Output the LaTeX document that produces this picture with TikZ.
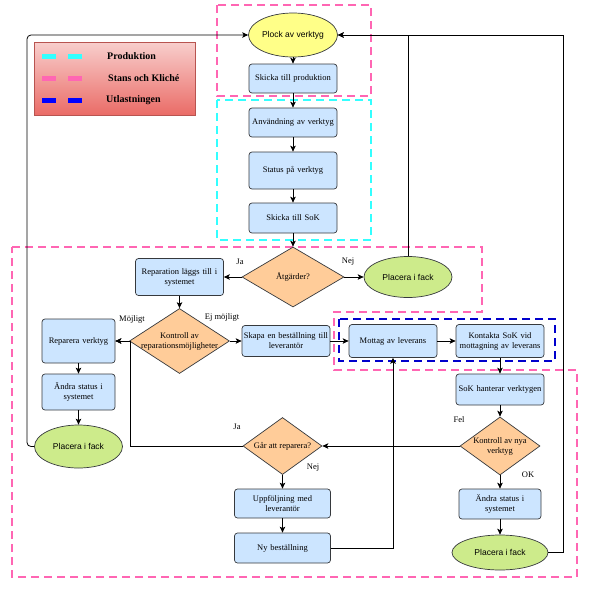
\documentclass[tikz,border=0pt]{standalone}
\usepackage{fontspec}
\setmainfont{Liberation Serif}
\newfontfamily\arialfont{Liberation Sans}
\usetikzlibrary{shapes.geometric,arrows.meta}
\definecolor{boxfill}{HTML}{CCE5FF}
\definecolor{boxline}{HTML}{36393D}
\definecolor{decfill}{HTML}{FFCC99}
\definecolor{yellowfill}{HTML}{FFFF88}
\definecolor{greenfill}{HTML}{CDEB8B}
\definecolor{pinkd}{HTML}{FF66B3}
\definecolor{cyand}{HTML}{33FFFF}
\definecolor{blued}{HTML}{0000CC}
\definecolor{legtop}{HTML}{F8CECC}
\definecolor{legbot}{HTML}{EA6B66}
\definecolor{legline}{HTML}{B85450}
\begin{document}
\begin{tikzpicture}[x=1pt,y=-1pt,
  proc/.style={draw=boxline, fill=boxfill, rounded corners=3pt, line width=0.7pt, align=center,
     font=\fontsize{8.5}{10}\selectfont, inner sep=1pt},
  dec/.style={draw=boxline, fill=decfill, diamond, line width=0.7pt, inner sep=0pt,
     label={[font=\fontsize{8.5}{10}\selectfont, align=center]center:#1}},
  term/.style={draw=boxline, ellipse, line width=0.7pt, inner sep=0pt,
     font=\arialfont\fontsize{8.5}{10}\selectfont},
  conn/.style={line width=0.8pt, -{Stealth[length=6pt,width=5.5pt,inset=1.5pt]}},
  lab/.style={font=\fontsize{8.5}{10}\selectfont, inner sep=0pt},
  frame/.style={line width=2.5pt, dash pattern=on 8pt off 5pt},
  legdash/.style={line width=5pt, dash pattern=on 14pt off 12pt},
  legtext/.style={font=\bfseries\fontsize{10}{12}\selectfont, anchor=west, inner sep=0pt}]
\useasboundingbox (0,0) rectangle (590,590);

% dashed frames
\draw[frame, pinkd] (217,5) rectangle (371,96);
\draw[frame, cyand] (217,100) rectangle (371,240);
\draw[frame, pinkd] (12,247) -- (482,247) -- (482,312) -- (334,312) -- (334,370) -- (577,370) -- (577,577) -- (12,577) -- cycle;
\draw[frame, blued] (339,319) rectangle (555,361);

% legend
\node[draw=legline, line width=0.7pt, top color=legtop, bottom color=legbot, minimum width=161, minimum height=73, anchor=north west, inner sep=0pt] (leg) at (34,42) {};
\draw[legdash, cyand] (42,56) -- (82,56);
\draw[legdash, pinkd] (42,78) -- (82,78);
\draw[legdash, blue] (42,100) -- (82,100);
\node[legtext] (l1) at (107,56) {Produktion};
\node[legtext] (l2) at (108,78) {Stans och Kliché};
\node[legtext] (l3) at (106,100) {Utlastningen};

% nodes
\node[term, fill=yellowfill, minimum width=89, minimum height=44] (plock) at (293,35) {Plock av verktyg};
\node[proc, minimum width=88, minimum height=29, text width=86] (skprod) at (293,78.5) {Skicka till produktion};
\node[proc, minimum width=88, minimum height=29, text width=86] (anv) at (293,122.5) {Användning av verktyg};
\node[proc, minimum width=88, minimum height=37, text width=86] (status) at (293,170.5) {Status på verktyg};
\node[proc, minimum width=88, minimum height=30, text width=86] (sksok) at (293,218) {Skicka till SoK};
\node[dec={Åtgärder?}, minimum width=102, minimum height=60] (atg) at (293,277) {};
\node[proc, minimum width=88, minimum height=37, text width=86] (rep) at (179.5,277) {Reparation läggs till i\\systemet};
\node[term, fill=greenfill, minimum width=88, minimum height=41] (pl1) at (408,277) {Placera i fack};
\node[dec={Kontroll av\\reparationsmöjligheter}, minimum width=100, minimum height=65] (kon) at (179.5,341) {};
\node[proc, minimum width=73, minimum height=44, text width=71] (repv) at (78.5,341) {Reparera verktyg};
\node[proc, minimum width=73, minimum height=36, text width=71] (andr1) at (78.5,392) {Ändra status i\\systemet};
\node[term, fill=greenfill, minimum width=88, minimum height=43] (pl2) at (78.5,446.5) {Placera i fack};
\node[proc, minimum width=88, minimum height=31, text width=86] (skapa) at (286,341) {Skapa en beställning till\\leverantör};
\node[proc, minimum width=88, minimum height=33, text width=86] (mott) at (393,341) {Mottag av leverans};
\node[proc, minimum width=88, minimum height=33, text width=86] (kont) at (500,341) {Kontakta SoK vid\\mottagning av leverans};
\node[proc, minimum width=88, minimum height=31, text width=86] (sokh) at (500,389.5) {SoK hanterar verktygen};
\node[dec={Kontroll av nya\\verktyg}, minimum width=80, minimum height=58] (kny) at (500,446) {};
\node[proc, minimum width=82, minimum height=30, text width=80] (andr2) at (500,504) {Ändra status i\\systemet};
\node[term, fill=greenfill, minimum width=96, minimum height=35] (pl3) at (500,552.5) {Placera i fack};
\node[dec={Går att reparera?}, minimum width=79, minimum height=57] (gar) at (282.5,446) {};
\node[proc, minimum width=96, minimum height=29, text width=94] (upp) at (282.5,503.5) {Uppföljning med\\leverantör};
\node[proc, minimum width=96, minimum height=30, text width=94] (ny) at (282.5,548) {Ny beställning};

% labels
\node[lab] (tja1) at (240,262) {Ja};
\node[lab] (tnej1) at (348,262) {Nej};
\node[lab] (tmoj) at (132,319) {Möjligt};
\node[lab] (tej) at (222,317) {Ej möjligt};
\node[lab] (tfel) at (459,420) {Fel};
\node[lab] (tok) at (528,475) {OK};
\node[lab] (tja2) at (237,427) {Ja};
\node[lab] (tnej2) at (313,468) {Nej};

% connectors
\draw[conn] (plock) -- (skprod);
\draw[conn] (skprod) -- (anv);
\draw[conn] (anv) -- (status);
\draw[conn] (status) -- (sksok);
\draw[conn] (sksok) -- (atg);
\draw[conn] (atg.west) -- (rep.east);
\draw[conn] (atg.east) -- (pl1.west);
\draw[conn] (rep) -- (kon);
\draw[conn] (kon.west) -- (repv.east);
\draw[conn] (kon.east) -- (skapa.west);
\draw[conn] (skapa) -- (mott);
\draw[conn] (mott) -- (kont);
\draw[conn] (kont) -- (sokh);
\draw[conn] (sokh) -- (kny);
\draw[conn] (kny) -- (andr2);
\draw[conn] (andr2) -- (pl3);
\draw[conn] (kny.west) -- (gar.east);
\draw[conn] (gar) -- (upp);
\draw[conn] (upp) -- (ny);
\draw[conn] (repv) -- (andr1);
\draw[conn] (andr1) -- (pl2);
\draw[conn] (ny.east) -| (mott.south);
\coordinate (j1) at (130,446);
\draw[conn] (gar.west) -- (j1) |- (repv.east);
\coordinate (lft) at (27,446.5);
\draw[conn, rounded corners=4pt] (pl2.west) -- (lft) |- (plock.west);
\draw[conn] (pl1.north) |- (plock.east);
\coordinate (rt) at (563,552.5);
\draw[conn] (pl3.east) -- (rt) |- (plock.east);
\end{tikzpicture}
\end{document}
